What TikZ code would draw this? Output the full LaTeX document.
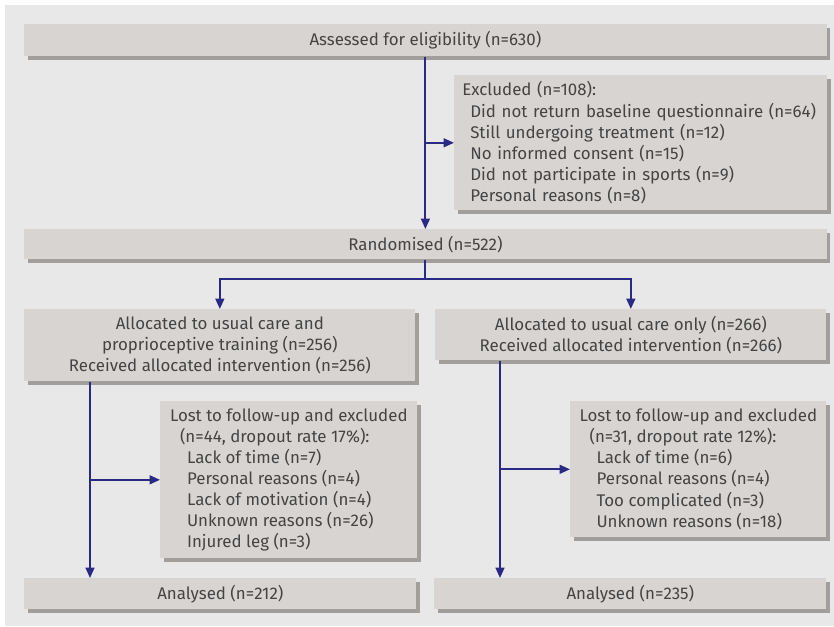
\documentclass[tikz,border=0pt]{standalone}
\usepackage{fontspec}
\setmainfont{Fira Sans}
\usetikzlibrary{arrows.meta,shadows}
\definecolor{bggrey}{HTML}{E8E8E8}
\definecolor{boxgrey}{HTML}{D8D4D1}
\definecolor{shadegrey}{HTML}{A19E9C}
\definecolor{flowblue}{HTML}{2A2A85}
\definecolor{txtgrey}{HTML}{444444}

\begin{document}
\begin{tikzpicture}[x=0.025cm, y=-0.025cm, font=\fontsize{12}{15}\selectfont,
    box/.style = {fill=boxgrey, text=txtgrey, anchor=north west, inner sep=0pt, inner xsep=0.2cm,
      drop shadow={fill=shadegrey, opacity=1, shadow xshift=0.09cm, shadow yshift=-0.09cm}},
    arr/.style = {draw=flowblue, line width=1.4pt, -{Triangle[length=2.6mm, width=2.2mm]}}]
    \useasboundingbox (0,0) rectangle (834,626);
    \fill[bggrey] (5,5) rectangle (834,626);
    \node[box, minimum width=20.05cm, minimum height=0.8cm] (assess) at (24,24) {Assessed for eligibility (n=630)};
    \node[box, text width=8.925cm, minimum height=3.375cm, align=left] (excl) at (454,75)
      {Excluded (n=108):\\
       \hspace*{0.2cm}Did not return baseline questionnaire (n=64)\\
       \hspace*{0.2cm}Still undergoing treatment (n=12)\\
       \hspace*{0.2cm}No informed consent (n=15)\\
       \hspace*{0.2cm}Did not participate in sports (n=9)\\
       \hspace*{0.2cm}Personal reasons (n=8)};
    \node[box, minimum width=20.05cm, minimum height=0.75cm] (rand) at (24,229) {Randomised (n=522)};
    \node[box, minimum width=9.775cm, minimum height=1.8cm, align=center] (alloc1) at (24,309)
      {Allocated to usual care and\\ proprioceptive training (n=256)\\ Received allocated intervention (n=256)};
    \node[box, minimum width=9.775cm, minimum height=1.275cm, align=center] (alloc2) at (435,309)
      {Allocated to usual care only (n=266)\\ Received allocated intervention (n=266)};
    \node[box, minimum width=6.425cm, minimum height=3.925cm, align=left] (lost1) at (160,401)
      {Lost to follow-up and excluded\\
       \hspace*{0.25cm}(n=44, dropout rate 17\%):\\
       \hspace*{0.425cm}Lack of time (n=7)\\
       \hspace*{0.425cm}Personal reasons (n=4)\\
       \hspace*{0.425cm}Lack of motivation (n=4)\\
       \hspace*{0.425cm}Unknown reasons (n=26)\\
       \hspace*{0.425cm}Injured leg (n=3)};
    \node[box, minimum width=6.4cm, minimum height=3.4cm, align=left] (lost2) at (570,401)
      {Lost to follow-up and excluded\\
       \hspace*{0.25cm}(n=31, dropout rate 12\%):\\
       \hspace*{0.425cm}Lack of time (n=6)\\
       \hspace*{0.425cm}Personal reasons (n=4)\\
       \hspace*{0.425cm}Too complicated (n=3)\\
       \hspace*{0.425cm}Unknown reasons (n=18)};
    \node[box, minimum width=9.8cm, minimum height=0.775cm] (anal1) at (24,578) {Analysed (n=212)};
    \node[box, minimum width=9.8cm, minimum height=0.775cm] (anal2) at (434,578) {Analysed (n=235)};
    \coordinate (lline) at (90,0);
    \coordinate (rline) at (500,0);
    % connectors
    \draw[arr] (assess) -- (rand);
    \draw[arr] (excl.west -| assess.south) -- (excl.west);
    \draw[arr] (rand.south) -- ++(0,19) -| (alloc1.north);
    \draw[arr] (rand.south) -- ++(0,19) -| (alloc2.north);
    \draw[arr] (alloc1.south -| lline) -- (anal1.north -| lline);
    \draw[arr] (lost1.west -| lline) -- (lost1.west);
    \draw[arr] (alloc2.south -| rline) -- (anal2.north -| rline);
    \draw[arr] (lost2.west -| rline) -- (lost2.west);
\end{tikzpicture}
\end{document}
